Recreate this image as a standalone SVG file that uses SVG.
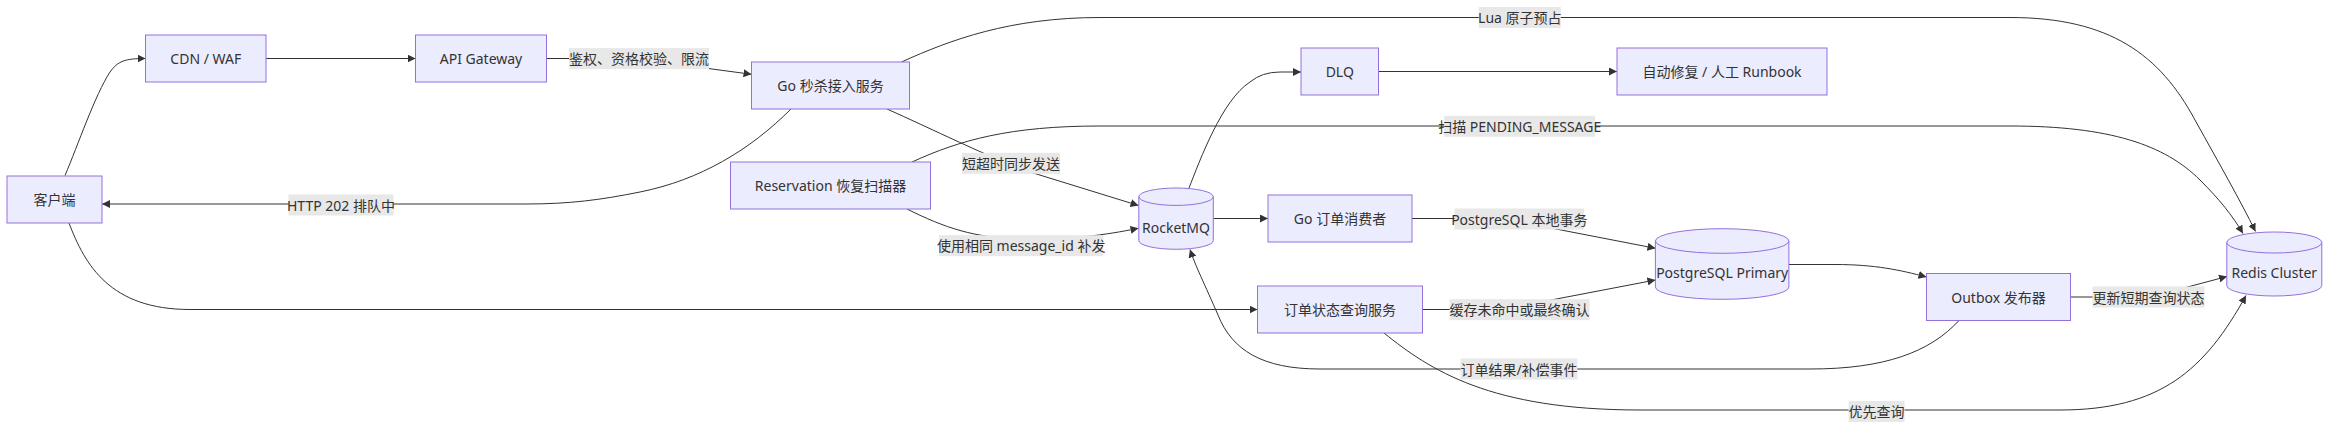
<svg xmlns="http://www.w3.org/2000/svg" width="2352" height="435" viewBox="0 0 2352 435">
<defs>
<marker id="arrow" viewBox="0 0 10 10" refX="10" refY="5" markerUnits="userSpaceOnUse" markerWidth="8" markerHeight="8" orient="auto">
<path d="M0,0 L10,5 L0,10 z" fill="#333333"/>
</marker>
<style>
.node rect, .node path { fill: #ECECFF; stroke: #9370DB; stroke-width: 1; }
text { font-family: "Noto Sans", "Noto Sans CJK SC", sans-serif; font-size: 14px; fill: #333333; text-anchor: middle; dominant-baseline: central; }
.edges path { fill: none; stroke: #333333; stroke-width: 1; marker-end: url(#arrow); }
.lbl rect { fill: #e8e8e8; }
</style>
</defs>
<rect width="2352" height="435" fill="#ffffff"/>
<g class="edges">
<path d="M65,175.5 C78,145 95,95 110,72 C118,61 125,58.5 145.5,58.5"/>
<path d="M266,58.5 L415.5,58.5"/>
<path d="M546.5,58.5 L620,58.5 C630,58.5 637,59 645,60 L751.5,74.3"/>
<path d="M901.5,62 C950,40 1010,17.5 1100,17.5 L2010,17.5 C2110,17.5 2160,55 2195,120 C2220,165 2240,200 2255.5,231.5"/>
<path d="M791,109 C750,150 700,180 640,192 C600,200 570,204 525,204 L102,204"/>
<path d="M887,109 C930,128 990,158 1030,172 L1138.5,205.5"/>
<path d="M907,209 C945,228 975,238 1021,239 C1070,240 1105,235 1138.5,228.3"/>
<path d="M912,162 C960,140 1010,126 1100,126 L2010,126 C2110,126 2165,145 2200,180 C2220,200 2232,215 2243,233.5"/>
<path d="M1189,188 C1200,160 1222,100 1250,82 Q1262,72 1280,72 L1301,72"/>
<path d="M1378.5,71.5 L1617,71.5"/>
<path d="M1213.3,218.5 L1268,218.5"/>
<path d="M1412,218.5 L1490,218.5 C1505,218.5 1515,221 1525,223 L1655.5,248.3"/>
<path d="M1422.5,309.5 L1490,309.5 C1505,309.5 1515,307 1525,305 L1655.5,280"/>
<path d="M1789,264.5 L1835,264.5 C1875,264.5 1900,270 1926.5,277"/>
<path d="M2070.5,297 L2110,297 C2140,297 2160,293 2180,289 L2227,276.5"/>
<path d="M1959,320.5 C1930,352 1885,369 1810,369 L1320,369 C1262,369 1232,350 1218,315 C1205,285 1195,265 1190,249.5"/>
<path d="M69,223 C85,265 110,309.5 190,309.5 L1257.5,309.5"/>
<path d="M1384,333 C1430,370 1490,410 1640,410 L2060,410 C2160,410 2205,370 2246,295.5"/>
</g>
<g class="lbl">
<rect x="569" y="48.1" width="140" height="21"/><text x="639" y="58.6">鉴权、资格校验、限流</text>
<rect x="288.5" y="194.5" width="105" height="21"/><text x="341" y="205">HTTP 202 排队中</text>
<rect x="1478.8" y="7" width="82" height="21"/><text x="1519.8" y="17.5">Lua 原子预占</text>
<rect x="1444.2" y="115.8" width="151" height="21"/><text x="1519.7" y="126.3">扫描 PENDING_MESSAGE</text>
<rect x="962" y="152.8" width="98" height="21"/><text x="1011" y="163.3">短超时同步发送</text>
<rect x="939.2" y="235.2" width="164" height="21"/><text x="1021.2" y="245.7">使用相同 message_id 补发</text>
<rect x="1454.5" y="208.5" width="129.5" height="21"/><text x="1519.3" y="219">PostgreSQL 本地事务</text>
<rect x="1449.6" y="299.2" width="140" height="21"/><text x="1519.6" y="309.7">缓存未命中或最终确认</text>
<rect x="1460.5" y="358.5" width="117" height="21"/><text x="1519" y="369">订单结果/补偿事件</text>
<rect x="1848.6" y="401" width="56" height="21"/><text x="1876.6" y="411.5">优先查询</text>
<rect x="2092.5" y="286.5" width="112" height="21"/><text x="2148.5" y="297">更新短期查询状态</text>
</g>
<g id="client" class="node"><rect x="7" y="176" width="95" height="47"/><text x="54.5" y="199.5">客户端</text></g>
<g id="cdn" class="node"><rect x="145.5" y="35" width="120.5" height="47"/><text x="205.75" y="58.5">CDN / WAF</text></g>
<g id="api" class="node"><rect x="415.5" y="35" width="131" height="47"/><text x="481" y="58.5">API Gateway</text></g>
<g id="seckill" class="node"><rect x="751.5" y="62" width="158" height="47"/><text x="830.5" y="85.5">Go 秒杀接入服务</text></g>
<g id="scanner" class="node"><rect x="730.5" y="162" width="200" height="47"/><text x="830.5" y="185.5">Reservation 恢复扫描器</text></g>
<g id="rocketmq" class="node"><path d="M1138.8,196.7 a37.25,8.7 0 0 0 74.5,0 a37.25,8.7 0 0 0 -74.5,0 l0,43.9 a37.25,8.7 0 0 0 74.5,0 l0,-43.9"/><text x="1176" y="227.5">RocketMQ</text></g>
<g id="dlq" class="node"><rect x="1301" y="48" width="77.5" height="47"/><text x="1339.75" y="71.5">DLQ</text></g>
<g id="runbook" class="node"><rect x="1617" y="48" width="210" height="47"/><text x="1722" y="71.5">自动修复 / 人工 Runbook</text></g>
<g id="consumer" class="node"><rect x="1268" y="195" width="144" height="47"/><text x="1340" y="218.5">Go 订单消费者</text></g>
<g id="query" class="node"><rect x="1257.5" y="286" width="165" height="47"/><text x="1340" y="309.5">订单状态查询服务</text></g>
<g id="postgres" class="node"><path d="M1655.4,241 a66.75,12.3 0 0 0 133.5,0 a66.75,12.3 0 0 0 -133.5,0 l0,46 a66.75,12.3 0 0 0 133.5,0 l0,-46"/><text x="1722.15" y="272.7">PostgreSQL Primary</text></g>
<g id="outbox" class="node"><rect x="1926.5" y="273.5" width="144" height="47"/><text x="1998.5" y="297">Outbox 发布器</text></g>
<g id="redis" class="node"><path d="M2226.8,242.5 a47.5,10.5 0 0 0 95,0 a47.5,10.5 0 0 0 -95,0 l0,43 a47.5,10.5 0 0 0 95,0 l0,-43"/><text x="2274.3" y="272">Redis Cluster</text></g>
</svg>
